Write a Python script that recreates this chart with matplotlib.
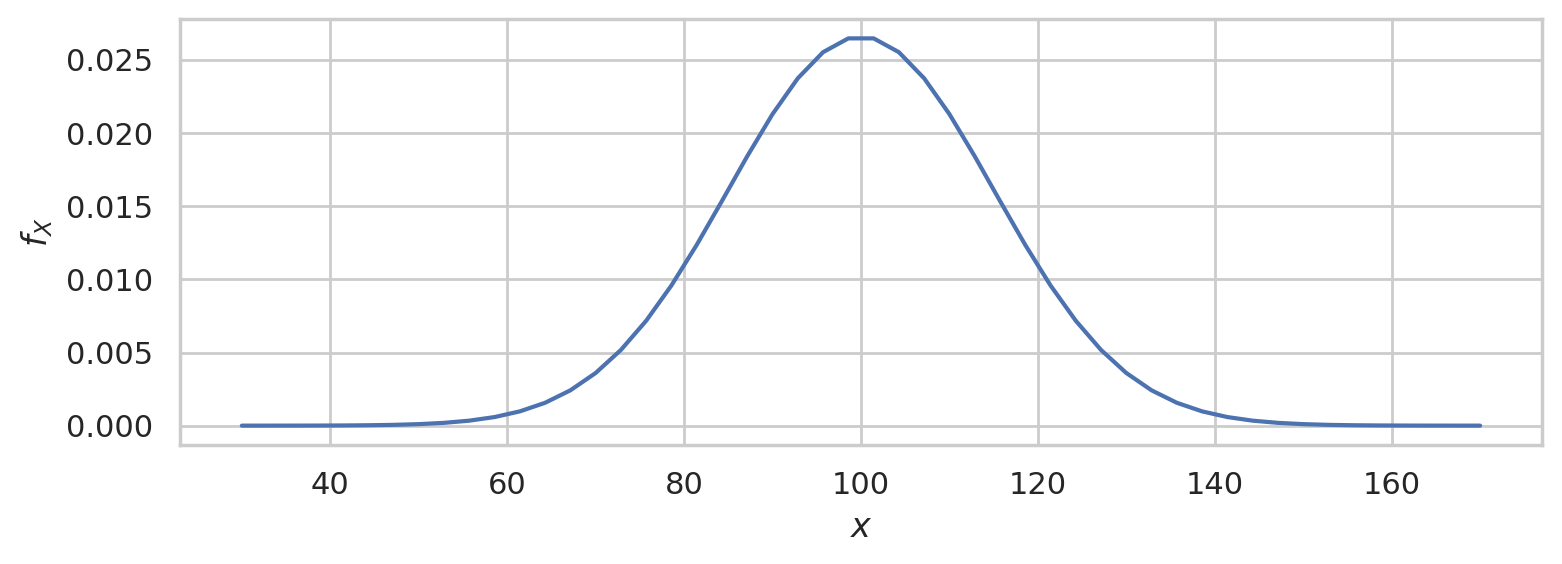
import matplotlib

matplotlib.use("agg")
import matplotlib.pyplot as plt
import seaborn as sns

# sample points and density values (half, mirrored about x=100)
x_left = [30.0, 32.857, 35.714, 38.571, 41.429, 44.286, 47.143, 50.0, 52.857, 55.714,
          58.571, 61.429, 64.286, 67.143, 70.0, 72.857, 75.714, 78.571, 81.429, 84.286,
          87.143, 90.0, 92.857, 95.714, 98.571]
y_left = [4.95e-7, 1.18e-6, 2.73e-6, 6.06e-6, 1.30e-5, 2.68e-5, 5.35e-5, 1.028e-4, 1.905e-4,
          3.405e-4, 5.868e-4, 9.752e-4, 1.5627e-3, 2.4149e-3, 3.5994e-3, 5.1743e-3, 7.1713e-3,
          9.5865e-3, 0.012359, 0.015364, 0.018420, 0.021297, 0.023745, 0.025532, 0.026476]

x_vals = x_left + [round(200 - v, 3) for v in reversed(x_left)]
y_vals = y_left + list(reversed(y_left))

sns.set_theme(style="whitegrid", context="notebook")

fig, ax = plt.subplots(figsize=(7.81, 2.82), dpi=200)
fig.subplots_adjust(left=0.1152, right=0.9872, top=0.9663, bottom=0.211)
ax.plot(x_vals, y_vals, color="#4c72b0")
ax.set_xlabel(r"$x$")
ax.set_ylabel(r"$f_X$")

plt.savefig("out.png", dpi=200)
plt.close()
